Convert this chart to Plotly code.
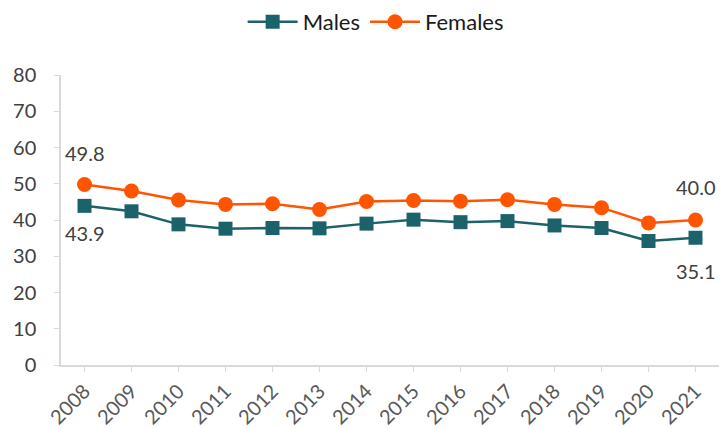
import plotly.graph_objects as go

years = [str(y) for y in range(2008, 2022)]
males = [43.9, 42.4, 38.8, 37.6, 37.8, 37.7, 39.0, 40.1, 39.4, 39.7, 38.5, 37.8, 34.2, 35.1]
females = [49.8, 48.0, 45.5, 44.3, 44.5, 42.9, 45.1, 45.4, 45.2, 45.6, 44.3, 43.4, 39.2, 40.0]

male_color = "#1C626B"
female_color = "#FF5500"
font_family = "Lato, Open Sans, sans-serif"

fig = go.Figure()
fig.add_trace(go.Scatter(
    x=years, y=males, name="Males", mode="lines+markers",
    line=dict(color=male_color, width=2.5),
    marker=dict(symbol="square", size=14, color=male_color),
))
fig.add_trace(go.Scatter(
    x=years, y=females, name="Females", mode="lines+markers",
    line=dict(color=female_color, width=2.5),
    marker=dict(symbol="circle", size=15, color=female_color),
))

ann = [
    (0, females[0], f"{females[0]:.1f}", 31),
    (0, males[0], f"{males[0]:.1f}", -27),
    (len(years) - 1, females[-1], f"{females[-1]:.1f}", 33),
    (len(years) - 1, males[-1], f"{males[-1]:.1f}", -33),
]
for x, y, t, s in ann:
    fig.add_annotation(x=x, y=y, xref="x", yref="y", text=t, showarrow=False, yshift=s,
                       font=dict(size=20, color="#404040", family=font_family))

fig.update_layout(
    width=728, height=428,
    margin=dict(l=61, r=9, t=75, b=63, autoexpand=False),
    paper_bgcolor="white", plot_bgcolor="white",
    font=dict(family=font_family, color="#595959"),
    showlegend=True,
    legend=dict(orientation="h", x=0.516, xanchor="center", xref="container",
                y=1 - 22 / 428, yanchor="middle", yref="container", itemwidth=50,
                font=dict(size=22, color="#1a1a1a")),
    xaxis=dict(
        type="category", range=[-0.5, 13.5], tickangle=-45, automargin=False,
        showline=True, linecolor="#d9d9d9", linewidth=1.5,
        ticks="outside", tickcolor="#d9d9d9", ticklen=5,
        showgrid=False, tickfont=dict(size=20, color="#595959"),
    ),
    yaxis=dict(
        range=[0, 80], dtick=10, showline=True, linecolor="#d9d9d9", linewidth=1.5,
        ticks="outside", tickcolor="#d9d9d9", ticklen=5, automargin=False,
        ticklabelstandoff=14,
        showgrid=False, zeroline=False, tickfont=dict(size=20, color="#404040"),
    ),
)

fig.write_html("out.html", config={"displayModeBar": False},
               post_script="document.body.style.margin='0';document.body.style.overflow='hidden';")
